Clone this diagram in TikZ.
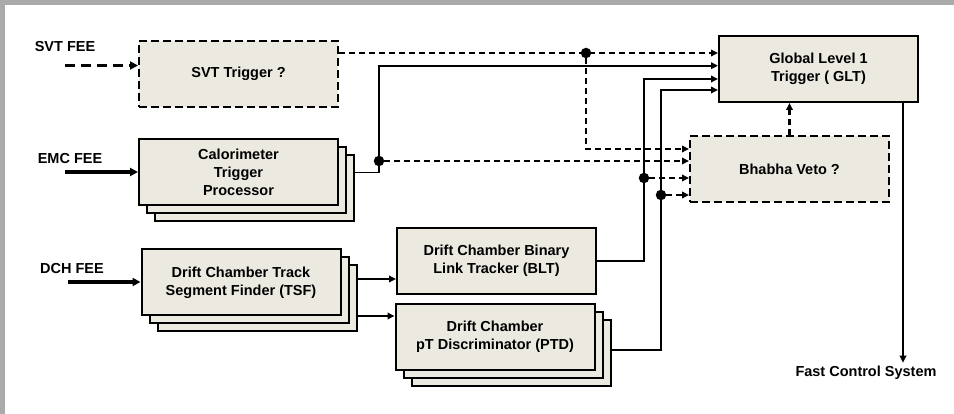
\documentclass[tikz,border=0pt]{standalone}
\usepackage{fontspec}
\setmainfont{Liberation Sans}
\usepackage{tikz}
\usetikzlibrary{arrows.meta,shadows}

\definecolor{boxfill}{RGB}{236,234,224}
\definecolor{framegray}{RGB}{170,170,170}

\begin{document}
\begin{tikzpicture}[x=1pt,y=-1pt,
        font=\fontsize{14.5}{18}\selectfont\bfseries,
        block/.style={draw,line width=2pt,fill=boxfill,align=center,minimum width=199pt,minimum height=66pt,inner sep=2pt},
        stack/.style={double copy shadow={shadow xshift=8pt,shadow yshift=-8pt}},
        maybe/.style={dash pattern=on 8pt off 4pt},
        link/.style={line width=1.8pt,-{Triangle[length=7pt,width=6.5pt]}},
        dlink/.style={link,dash pattern=on 6pt off 4pt},
        feed/.style={line width=3.2pt,-{Triangle[length=8pt,width=8pt]}},
        joint/.style={circle,fill,inner sep=0pt,minimum size=10.5pt}]
        \useasboundingbox (0,0) rectangle (954,414);
        \fill[framegray] (0,0) rectangle (954,414);
        \fill[white] (5,5) rectangle (954,414);

        % front end boxes
        \node[block,maybe] (svt) at (238.5,74) {SVT Trigger ?};
        \node[block,stack] (cal) at (238.5,172.5) {Calorimeter\\Trigger\\Processor};
        \node[block,stack] (tsf) at (241,282.5) {Drift Chamber Track\\Segment Finder (TSF)};
        \node[block] (blt) at (496.5,261) {Drift Chamber Binary\\Link Tracker (BLT)};
        \node[block,stack] (ptd) at (495,337) {Drift Chamber\\pT Discriminator (PTD)};
        \node[block] (glt) at (818.5,69) {Global Level 1\\Trigger ( GLT)};
        \node[block,maybe] (bha) at (789.5,169.5) {Bhabha Veto ?};

        % inputs
        \node (svtfee) at (65,47) {SVT FEE};
        \node (emcfee) at (70,159) {EMC FEE};
        \node (dchfee) at (72,269) {DCH FEE};
        \node (fcs) at (866,373) {Fast Control System};
        \draw[feed,dash pattern=on 10pt off 6pt] (65,65.5) -- (svt.west |- 0,65.5);
        \draw[feed] (65,172) -- (cal.west |- 0,172);
        \draw[feed] (68,282) -- (tsf.west |- 0,282);

        % junctions
        \node[joint] (jsvt) at (586,53) {};
        \node[joint] (jcal) at (379,161) {};
        \node[joint] (jblt) at (644,178) {};
        \node[joint] (jptd) at (661,195) {};

        \draw[dlink] ([yshift=21pt]svt.east) -- ([yshift=16pt]glt.west);
        \draw[dlink] (jsvt) |- ([yshift=20.5pt]bha.west);
        \draw[link] ([xshift=16pt]cal.east) -| (jcal.center) |- ([yshift=3.3pt]glt.west);
        \draw[dlink] (jcal) -- ([yshift=8.5pt]bha.west);
        \draw[link] (blt.east) -| (jblt.center) |- ([yshift=-10pt]glt.west);
        \draw[dlink] (jblt) -- ([yshift=-8.5pt]bha.west);
        \draw[link] ([xshift=16pt,yshift=-13pt]ptd.east) -| (jptd.center) |- ([yshift=-21pt]glt.west);
        \draw[dlink] (jptd) -- ([yshift=-25.5pt]bha.west);

        \draw[link] ([xshift=16pt,yshift=3.5pt]tsf.east) coordinate (t1) -- (t1 -| blt.west);
        \draw[link] ([xshift=16pt,yshift=-33.5pt]tsf.east) coordinate (t2) -- (t2 -| ptd.west);

        \draw[dlink,line width=2.4pt] (bha.north) -- (bha.north |- glt.south);
        \draw[link] (glt.south -| 903,0) -- (fcs.north -| 903,0);
\end{tikzpicture}
\end{document}
